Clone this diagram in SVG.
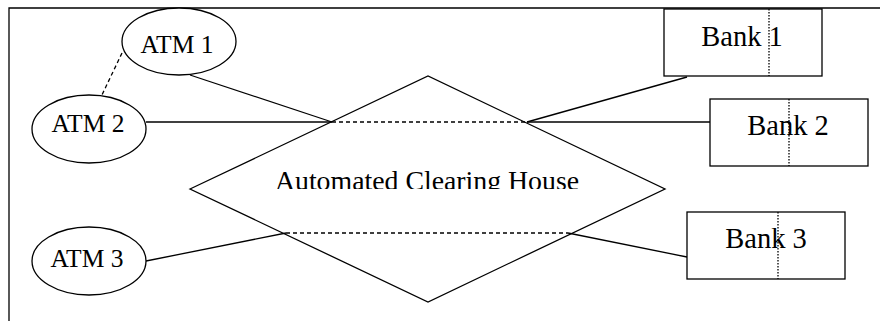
<svg xmlns="http://www.w3.org/2000/svg" width="880" height="321" viewBox="0 0 880 321">
<defs>
<style>
.s{fill:#fff;stroke:#000;stroke-width:1.3}
.l{fill:none;stroke:#000;stroke-width:1.3}
.d{fill:none;stroke:#000;stroke-width:1.3;stroke-dasharray:4,3}
.dot{fill:none;stroke:#000;stroke-width:1.3;stroke-dasharray:1.5,1.5}
.t{font-family:"Liberation Serif","Times New Roman",serif;fill:#000;text-anchor:middle}
.a{font-size:25.5px}
.b{font-size:28.5px}
</style>
<clipPath id="achclip"><rect x="180" y="150" width="500" height="39"/></clipPath>
</defs>
<rect width="880" height="321" fill="#fff"/>
<g id="frame"><path class="l" d="M9 321V8H880"/></g>
<g id="connectors">
<line class="d" x1="122" y1="53" x2="101" y2="97"/>
<line class="l" x1="190" y1="75" x2="332" y2="122"/>
<line class="l" x1="146" y1="122" x2="332" y2="122"/>
<line class="d" x1="332" y1="122" x2="527" y2="122"/>
<line class="l" x1="527" y1="122" x2="710" y2="122"/>
<line class="l" x1="687" y1="77" x2="527" y2="122"/>
<line class="l" x1="146" y1="261" x2="286" y2="233"/>
<line class="d" x1="286" y1="233" x2="568" y2="233"/>
<line class="l" x1="568" y1="233" x2="687" y2="257"/>
</g>
<g id="ach">
<polygon fill="none" stroke="#000" stroke-width="1.3" points="190,189 428,76 665,189 428,302"/>
<text class="t" x="427" y="190" font-size="27.8" clip-path="url(#achclip)">Automated Clearing House</text>
</g>
<g id="atm1"><ellipse class="s" cx="179" cy="41.5" rx="57" ry="33.5"/><text class="t a" x="177" y="53">ATM 1</text></g>
<g id="atm2"><ellipse class="s" cx="89" cy="129" rx="57" ry="34"/><text class="t a" x="88" y="132">ATM 2</text></g>
<g id="atm3"><ellipse class="s" cx="89" cy="261" rx="57" ry="34"/><text class="t a" x="87" y="267">ATM 3</text></g>
<g id="bank1"><rect class="s" x="664" y="9" width="158" height="67"/><text class="t b" x="742" y="46">Bank 1</text><line class="dot" x1="769" y1="9" x2="769" y2="76"/></g>
<g id="bank2"><rect class="s" x="710" y="99" width="158" height="67"/><text class="t b" x="788" y="135">Bank 2</text><line class="dot" x1="789" y1="99" x2="789" y2="166"/></g>
<g id="bank3"><rect class="s" x="687" y="212" width="158" height="67"/><text class="t b" x="766" y="248">Bank 3</text><line class="dot" x1="778" y1="212" x2="778" y2="279"/></g>
</svg>
